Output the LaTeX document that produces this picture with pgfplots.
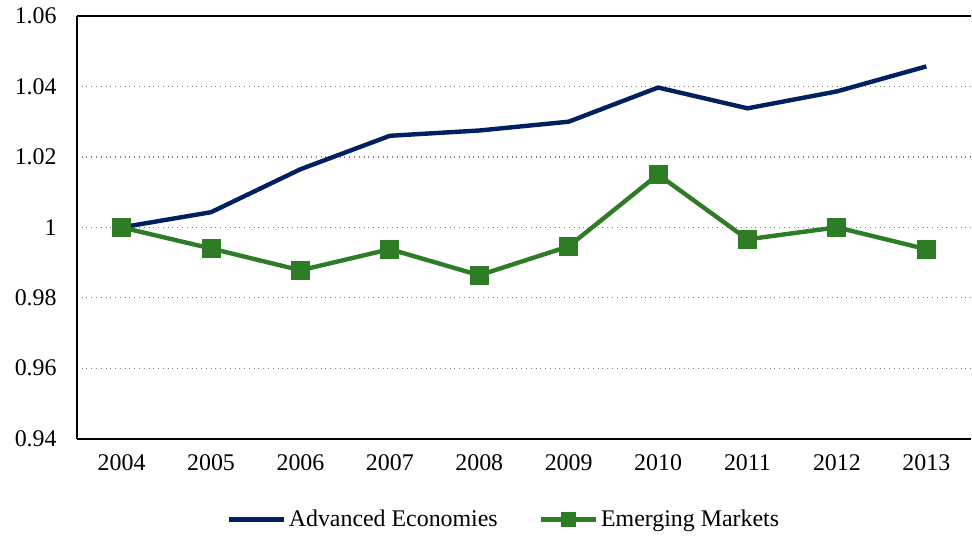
\documentclass[border=0pt]{standalone}
\usepackage{pgfplots}
\pgfplotsset{compat=1.18}
\usepackage{fontspec}
\setmainfont{Liberation Serif}
\definecolor{navy}{RGB}{0,32,96}
\definecolor{emgreen}{RGB}{46,125,38}
\begin{document}
\fontsize{12}{14}\selectfont
\begin{tikzpicture}
\begin{axis}[
  name=main,
  scale only axis,
  width=447.5bp, height=211.5bp,
  xmin=-0.5, xmax=9.5,
  ymin=0.94, ymax=1.06,
  axis x line*=bottom, axis y line*=left,
  axis line style={line width=1bp},
  xtick={0,...,9},
  xticklabels={2004,2005,2006,2007,2008,2009,2010,2011,2012,2013},
  major x tick style={draw=none},
  extra x ticks={-0.5,0.5,1.5,2.5,3.5,4.5,5.5,6.5,7.5,8.5},
  extra x tick labels={},
  extra x tick style={tick align=center, major tick length=6bp, tick style={line width=0.8bp, black}},
  ytick={0.94,0.96,0.98,1,1.02,1.04},
  yticklabels={0.94,0.96,0.98,1,1.02,1.04},
  extra y ticks={1.06},
  extra y tick labels={1.06},
  extra y tick style={grid=major, major grid style={solid, black, line width=1bp}, major tick length=0pt},
  major y tick style={draw=none},
  ymajorgrids,
  major grid style={gray, dotted, line width=0.6bp},
  /pgf/number format/assume math mode=true,
  ticklabel style={font=\fontsize{12}{14}\selectfont},
  xticklabel style={yshift=-4bp},
  yticklabel style={xshift=-6bp},
  legend style={draw=none, at={(0.478,-0.1915)}, anchor=center, legend columns=2,
    font=\fontsize{12}{14}\selectfont,
    nodes={inner xsep=1.5bp},
    /tikz/every even column/.append style={column sep=19bp}},
  legend cell align=left,
  legend image code/.code={
    \draw[#1, mark size=3.5bp] (0bp,0bp) -- (27.5bp,0bp);
    \draw[#1, only marks, mark size=3.5bp] plot coordinates {(13.75bp,0bp)};
  },
]
\addplot[navy, line width=2.2bp, no markers] coordinates {
(0,1.000) (1,1.0043) (2,1.0165) (3,1.0260) (4,1.0275) (5,1.0300) (6,1.0397) (7,1.0338) (8,1.0386) (9,1.0457)};
\addlegendentry{Advanced Economies}
\addplot[emgreen, line width=2.2bp, mark=square*, mark size=4.5bp, mark options={solid, fill=emgreen, line width=0.5bp}] coordinates {
(0,1.000) (1,0.9940) (2,0.9878) (3,0.9938) (4,0.9864) (5,0.9946) (6,1.0150) (7,0.9966) (8,1.000) (9,0.9938)};
\addlegendentry{Emerging Markets}
\end{axis}
\useasboundingbox ([xshift=-38.5bp,yshift=-48bp]main.south west) rectangle ([yshift=7bp]main.north east);
\end{tikzpicture}
\end{document}
